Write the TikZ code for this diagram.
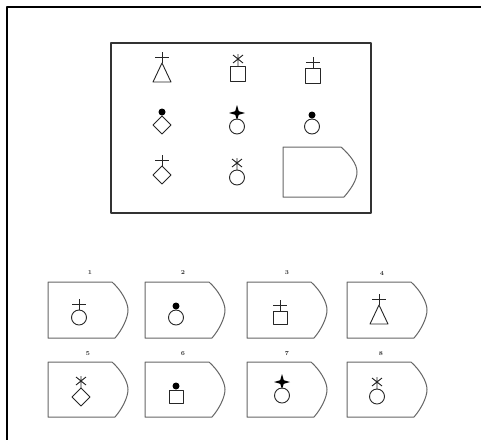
\documentclass[tikz,border=0pt]{standalone}
\newcommand\tagshp[4]{% left, top, tip x, bottom
  \draw[tagline] (#1,#2) -- ({#3-16},#2)
    .. controls ({#3-7},{#2+8}) and (#3,{(#2+#4)/2-8}) .. (#3,{(#2+#4)/2})
    .. controls (#3,{(#2+#4)/2+8}) and ({#3-6},{#4-8}) .. ({#3-13},#4)
    -- (#1,#4) -- cycle;}
\tikzset{
  sym/.style={line width=0.9pt, draw=black!85},
  tagline/.style={line width=1pt, draw=black!60, line join=round},
  lbl/.style={font=\fontsize{6}{7}\selectfont\bfseries, inner sep=0pt, text=black!80},
  crs/.pic={\draw[sym] (0,0)--(0,-11) (-7,-6)--(7,-6);},
  ast/.pic={\draw[sym] (0,0)--(0,-12) (-5,-11)--(5,-3) (5,-11)--(-5,-3);},
  dotp/.pic={\fill[black] (0,-4) circle (3.5pt);},
  starp/.pic={\fill[black] (0,-14)--(1.8,-7.8)--(8,-6)--(1.8,-4.2)--(0,1)--(-1.8,-4.2)--(-8,-6)--(-1.8,-7.8)--cycle;},
  trip/.pic={\draw[sym] (0,0)--(9,19)--(-9,19)--cycle;},
  sqp/.pic={\draw[sym] (-7.5,0) rectangle (7.5,15);},
  sqs/.pic={\draw[sym] (-7,0) rectangle (7,13);},
  circp/.pic={\draw[sym] (0,7.5) circle (7.5pt);},
  diap/.pic={\draw[sym] (0,0)--(9,9)--(0,18)--(-9,9)--cycle;},
}
\begin{document}
\begin{tikzpicture}[x=1pt,y=-1pt,line join=round]
\useasboundingbox (0,0) rectangle (481,440);
\fill[white] (0,0) rectangle (481,440);
% outer frame (only top and left visible)
\draw[line width=2pt] (481,7) -- (7,7) -- (7,440);
% matrix box
\draw[line width=1.3pt, draw=black!80] (111,43) rectangle (371,213);
% row 1
\pic at (162,63) {crs}; \pic at (162,63) {trip};
\pic at (238,66) {ast}; \pic at (238,66) {sqp};
\pic at (313,68) {crs}; \pic at (313,68) {sqp};
% row 2
\pic at (162,116) {dotp}; \pic at (162,116) {diap};
\pic at (237,119) {starp}; \pic at (237,119) {circp};
\pic at (312,119) {dotp}; \pic at (312,119) {circp};
% row 3
\pic at (162,166) {crs}; \pic at (162,166) {diap};
\pic at (237,170) {ast}; \pic at (237,170) {circp};
\tagshp{283}{147}{357}{197}
% answer boxes
\tagshp{48}{282}{128}{338}
\tagshp{145}{282}{225}{338}
\tagshp{247}{282}{327}{338}
\tagshp{347}{282}{427}{338}
\tagshp{48}{362}{128}{417}
\tagshp{145}{362}{225}{417}
\tagshp{247}{362}{327}{417}
\tagshp{347}{362}{427}{417}
% labels
\node[lbl] (l1) at (90,273) {1};
\node[lbl] (l2) at (183,273) {2};
\node[lbl] (l3) at (287,273) {3};
\node[lbl] (l4) at (382,273) {4};
\node[lbl] (l5) at (88,354) {5};
\node[lbl] (l6) at (183,354) {6};
\node[lbl] (l7) at (287,354) {7};
\node[lbl] (l8) at (381,354) {8};
% answer symbols
\pic at (79,310) {crs}; \pic at (79,310) {circp};
\pic at (176,310) {dotp}; \pic at (176,310) {circp};
\pic at (280,311) {crs}; \pic at (280,311) {sqs};
\pic at (379,305) {crs}; \pic at (379,305) {trip};
\pic at (81,388) {ast}; \pic at (81,388) {diap};
\pic at (176,390) {dotp}; \pic at (176,390) {sqs};
\pic at (282,388) {starp}; \pic at (282,388) {circp};
\pic at (377,389) {ast}; \pic at (377,389) {circp};
\end{tikzpicture}
\end{document}
